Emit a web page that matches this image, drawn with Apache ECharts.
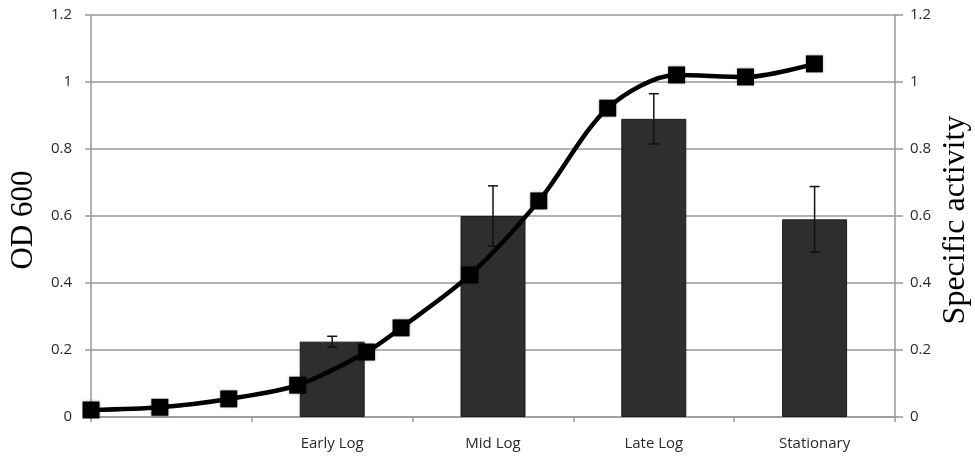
<!DOCTYPE html>
<html>
<head>
<meta charset="utf-8">
<script src="https://cdn.jsdelivr.net/npm/echarts@6/dist/echarts.min.js"></script>
<style>html,body{margin:0;padding:0;background:#fff}#c{width:975px;height:456px}</style>
</head>
<body>
<div id="c"></div>
<script>
// Bar categories (first slot intentionally empty)
var categories = ['', 'Early Log', 'Mid Log', 'Late Log', 'Stationary'];
// Specific activity (right axis)
var activity = [null, 0.225, 0.60, 0.89, 0.59];
var activityErr = [null, 0.016, 0.09, 0.075, 0.098];
// OD 600 growth curve (left axis): sample times and values
var odTime = [0, 1, 2, 3, 4, 4.5, 5.5, 6.5, 7.5, 8.5, 9.5, 10.5];
var odValue = [0.021, 0.029, 0.054, 0.095, 0.194, 0.266, 0.424, 0.645, 0.922, 1.021, 1.015, 1.054];
var yTicks = { min: 0, max: 1.2, interval: 0.2 };
var timeMax = 11.67;
var leftTitle = 'OD 600';
var rightTitle = 'Specific activity';

var chart = echarts.init(document.getElementById('c'));

var odData = odTime.map(function (t, i) { return [t, odValue[i]]; });
var errData = [];
categories.forEach(function (c, i) {
  if (activity[i] != null) errData.push([i, activity[i] - activityErr[i], activity[i] + activityErr[i]]);
});

var gridColor = '#999';
var labelFont = { fontFamily: 'Open Sans', fontSize: 15, color: '#2a2a2a' };

chart.setOption({
  animation: false,
  backgroundColor: '#fff',
  grid: { left: 91, right: 80, top: 15, bottom: 39, containLabel: false, outerBoundsMode: 'none' },
  graphic: [
    {
      type: 'text', x: 24, y: 220, rotation: Math.PI / 2,
      style: { text: leftTitle, font: '31px "Liberation Serif"', fill: '#000', textAlign: 'center', textVerticalAlign: 'middle' }
    },
    {
      type: 'text', x: 956, y: 220, rotation: Math.PI / 2,
      style: { text: rightTitle, font: '32px "Liberation Serif"', fill: '#000', textAlign: 'center', textVerticalAlign: 'middle' }
    }
  ],
  xAxis: [
    {
      type: 'category', data: categories, boundaryGap: true,
      axisLine: { lineStyle: { color: gridColor, width: 1.5 } },
      axisTick: { show: true, length: 5, lineStyle: { color: gridColor, width: 1.5 } },
      axisLabel: Object.assign({ margin: 19 }, labelFont),
      splitLine: { show: false }
    },
    {
      type: 'value', min: 0, max: timeMax, show: false, position: 'bottom'
    }
  ],
  yAxis: [
    {
      type: 'value', min: yTicks.min, max: yTicks.max, interval: yTicks.interval, position: 'left',
      axisLine: { show: true, lineStyle: { color: gridColor, width: 1.5 } },
      axisTick: { show: true, length: 6, lineStyle: { color: gridColor, width: 1.5 } },
      axisLabel: Object.assign({ margin: 19 }, labelFont),
      splitLine: { show: true, lineStyle: { color: gridColor, width: 1.5 } }
    },
    {
      type: 'value', min: yTicks.min, max: yTicks.max, interval: yTicks.interval, position: 'right',
      axisLine: { show: true, lineStyle: { color: gridColor, width: 1.5 } },
      axisTick: { show: true, length: 8, lineStyle: { color: gridColor, width: 1.5 } },
      axisLabel: Object.assign({ margin: 15 }, labelFont),
      splitLine: { show: false }
    }
  ],
  series: [
    {
      type: 'bar', xAxisIndex: 0, yAxisIndex: 1, data: activity, barWidth: 65,
      itemStyle: { color: '#2e2e2e', borderColor: '#1c1c1c', borderWidth: 1 },
      z: 2
    },
    {
      type: 'custom', xAxisIndex: 0, yAxisIndex: 1, data: errData, z: 3,
      renderItem: function (params, api) {
        var lo = api.coord([api.value(0), api.value(1)]);
        var hi = api.coord([api.value(0), api.value(2)]);
        var w = 5;
        var st = { stroke: '#111', lineWidth: 1.5 };
        return {
          type: 'group', children: [
            { type: 'line', shape: { x1: hi[0], y1: hi[1], x2: lo[0], y2: lo[1] }, style: st },
            { type: 'line', shape: { x1: hi[0] - w, y1: hi[1], x2: hi[0] + w, y2: hi[1] }, style: st },
            { type: 'line', shape: { x1: lo[0] - w, y1: lo[1], x2: lo[0] + w, y2: lo[1] }, style: st }
          ]
        };
      }
    },
    {
      type: 'line', xAxisIndex: 1, yAxisIndex: 0, data: odData, smooth: 0.3,
      symbol: 'rect', symbolSize: 17,
      lineStyle: { color: '#000', width: 4.5 },
      itemStyle: { color: '#000', shadowColor: 'rgba(0,0,0,0.4)', shadowBlur: 3 },
      z: 5
    }
  ]
});
</script>
</body>
</html>
